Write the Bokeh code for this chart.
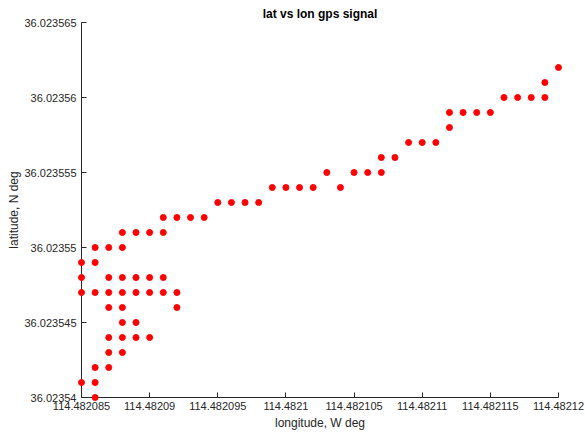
from bokeh.plotting import figure
from bokeh.models import Range1d, FixedTicker, CustomJSTickFormatter, ColumnDataSource
from bokeh.embed import file_html
from bokeh.resources import INLINE

# GPS fixes: longitude (W deg) and latitude (N deg)
lon = [
    114.482086,
    114.482085, 114.482086,
    114.482086, 114.482087,
    114.482087, 114.482088,
    114.482087, 114.482088, 114.482089, 114.482090,
    114.482088, 114.482089,
    114.482087, 114.482088, 114.482092,
    114.482085, 114.482086, 114.482087, 114.482088, 114.482089, 114.482090, 114.482091, 114.482092,
    114.482085, 114.482087, 114.482088, 114.482089, 114.482090, 114.482091,
    114.482085, 114.482086,
    114.482086, 114.482087, 114.482088,
    114.482088, 114.482089, 114.482090, 114.482091,
    114.482091, 114.482092, 114.482093, 114.482094,
    114.482095, 114.482096, 114.482097, 114.482098,
    114.482099, 114.482100, 114.482101, 114.482102, 114.482104,
    114.482103, 114.482105, 114.482106, 114.482107,
    114.482107, 114.482108,
    114.482109, 114.482110, 114.482111,
    114.482112,
    114.482112, 114.482113, 114.482114, 114.482115,
    114.482116, 114.482117, 114.482118, 114.482119,
    114.482119,
    114.482120,
]
lat = [
    36.023540,
    36.023541, 36.023541,
    36.023542, 36.023542,
    36.023543, 36.023543,
    36.023544, 36.023544, 36.023544, 36.023544,
    36.023545, 36.023545,
    36.023546, 36.023546, 36.023546,
    36.023547, 36.023547, 36.023547, 36.023547, 36.023547, 36.023547, 36.023547, 36.023547,
    36.023548, 36.023548, 36.023548, 36.023548, 36.023548, 36.023548,
    36.023549, 36.023549,
    36.023550, 36.023550, 36.023550,
    36.023551, 36.023551, 36.023551, 36.023551,
    36.023552, 36.023552, 36.023552, 36.023552,
    36.023553, 36.023553, 36.023553, 36.023553,
    36.023554, 36.023554, 36.023554, 36.023554, 36.023554,
    36.023555, 36.023555, 36.023555, 36.023555,
    36.023556, 36.023556,
    36.023557, 36.023557, 36.023557,
    36.023558,
    36.023559, 36.023559, 36.023559, 36.023559,
    36.023560, 36.023560, 36.023560, 36.023560,
    36.023561,
    36.023562,
]

x_ticks = [114.482085, 114.48209, 114.482095, 114.4821, 114.482105, 114.48211, 114.482115, 114.48212]
y_ticks = [36.02354, 36.023545, 36.02355, 36.023555, 36.02356, 36.023565]

AXIS_COLOR = "#262626"
FONT = "Liberation Sans"

p = figure(
    width=585, height=436,
    output_backend="svg", toolbar_location=None,
    x_range=Range1d(x_ticks[0], x_ticks[-1]),
    y_range=Range1d(y_ticks[0], y_ticks[-1]),
    title="lat vs lon gps signal",
    min_border_left=81, min_border_right=27,
    min_border_top=22, min_border_bottom=39,
)
p.background_fill_color = "white"
p.border_fill_color = "white"
p.outline_line_color = None
p.grid.visible = False

p.title.align = "center"
p.title.vertical_align = "top"
p.title.text_font = FONT
p.title.text_font_size = "12px"
p.title.text_font_style = "bold"
p.title.text_color = "black"
p.title.offset = 0
p.title.standoff = 0

trim_zeros = CustomJSTickFormatter(code="return tick.toFixed(6).replace(/0+$/, '');")

for ax, ticks, label in ((p.xaxis[0], x_ticks, "longitude, W deg"),
                         (p.yaxis[0], y_ticks, "latitude, N deg")):
    ax.ticker = FixedTicker(ticks=ticks)
    ax.formatter = trim_zeros
    ax.axis_label = label
    ax.axis_label_text_font = FONT
    ax.axis_label_text_font_size = "12px"
    ax.axis_label_text_font_style = "normal"
    ax.axis_label_text_color = AXIS_COLOR
    ax.major_label_text_font = FONT
    ax.major_label_text_font_size = "11px"
    ax.major_label_text_color = AXIS_COLOR
    ax.axis_line_color = AXIS_COLOR
    ax.major_tick_line_color = AXIS_COLOR
    ax.major_tick_in = 5
    ax.major_tick_out = 0
    ax.minor_tick_line_color = None

p.xaxis.major_label_standoff = 4
p.xaxis.axis_label_standoff = 3
p.yaxis.major_label_standoff = 5
p.yaxis.axis_label_standoff = 1

src = ColumnDataSource(data=dict(lon=lon, lat=lat))
# drawn on the overlay level so markers sitting on the axes are not cut off
p.scatter("lon", "lat", source=src, size=6, fill_color="#ff0000",
          line_color="#ff0000", level="overlay")

open("out.html", "w").write(file_html(p, INLINE))
